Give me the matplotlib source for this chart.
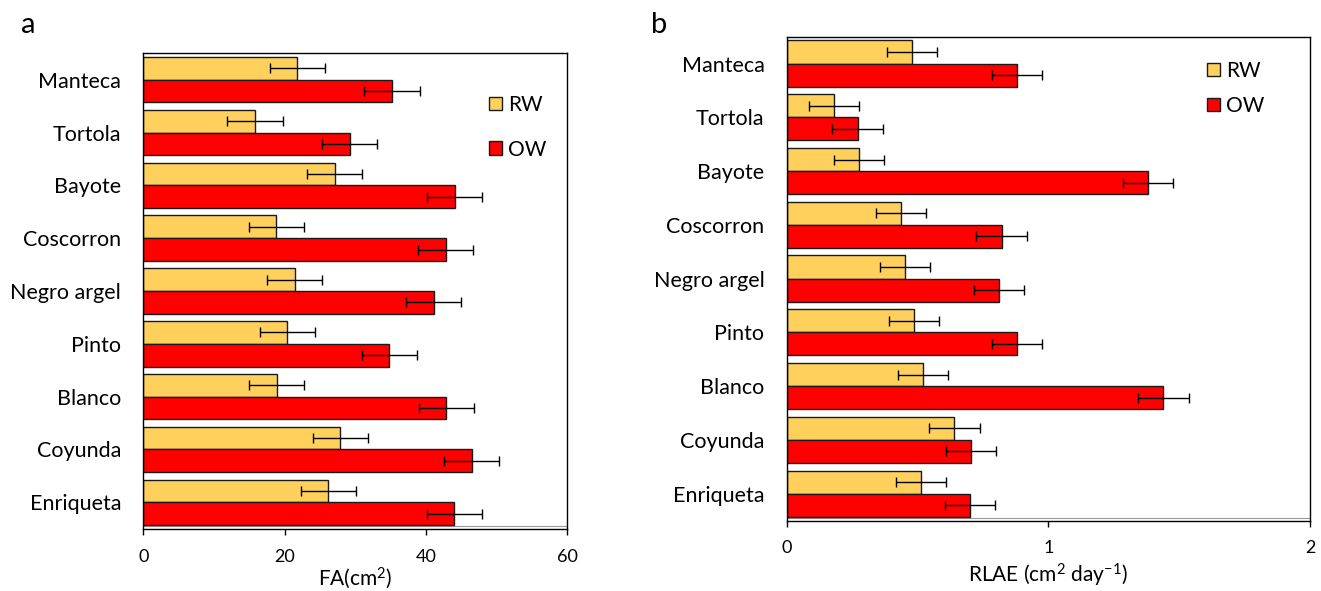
import matplotlib
matplotlib.use("Agg")
import matplotlib.pyplot as plt
from matplotlib.patches import Patch
import numpy as np

plt.rcParams['font.family'] = ['Lato', 'DejaVu Sans']
plt.rcParams['mathtext.fontset'] = 'custom'
plt.rcParams['mathtext.rm'] = 'Lato'
plt.rcParams['mathtext.it'] = 'Lato:italic'
plt.rcParams['mathtext.bf'] = 'Lato:bold'

# ---- data ----
cultivars = ["Manteca", "Tortola", "Bayote", "Coscorron", "Negro argel",
             "Pinto", "Blanco", "Coyunda", "Enriqueta"]

fa_rw = [21.8, 15.8, 27.1, 18.8, 21.4, 20.4, 18.9, 27.9, 26.2]
fa_ow = [35.2, 29.2, 44.1, 42.8, 41.1, 34.8, 42.9, 46.5, 44.0]
fa_rw_err = [3.9, 3.9, 3.9, 3.9, 3.9, 3.9, 3.9, 3.9, 3.9]
fa_ow_err = [3.9, 3.9, 3.9, 3.9, 3.9, 3.9, 3.9, 3.9, 3.9]

rlae_rw = [0.48, 0.18, 0.275, 0.437, 0.452, 0.487, 0.522, 0.641, 0.512]
rlae_ow = [0.879, 0.271, 1.382, 0.821, 0.811, 0.879, 1.44, 0.703, 0.701]
rlae_rw_err = [0.096, 0.096, 0.096, 0.096, 0.096, 0.096, 0.096, 0.096, 0.096]
rlae_ow_err = [0.096, 0.096, 0.096, 0.096, 0.096, 0.096, 0.096, 0.096, 0.096]

fa_ticks = [0, 20, 40, 60]
rlae_ticks = [0, 1, 2]
series_names = ["RW", "OW"]

# ---- style ----
C_RW = '#FFD15C'
C_OW = '#FF0000'
EDGE = '#1a1a1a'
W, H = 1321, 591
fig = plt.figure(figsize=(W / 100, H / 100), dpi=100)

def px_axes(x0, y0, x1, y1):
    return fig.add_axes([x0 / W, 1 - y1 / H, (x1 - x0) / W, (y1 - y0) / H])

axA = px_axes(143.3, 53.3, 567.3, 528.7)
axB = px_axes(786.7, 36.7, 1310.0, 520.5)

bh = 0.43
def draw(ax, rw, ow, rwe, owe, ticks, xlabel, lpad, leg_xy, leg_space):
    y = np.arange(len(cultivars))
    ekw = dict(ecolor='black', elinewidth=1.0, capsize=3.3, capthick=1.0)
    ax.barh(y - bh / 2, rw, height=bh, color=C_RW, edgecolor=EDGE,
            linewidth=1.0, xerr=rwe, error_kw=ekw, label=series_names[0], zorder=2)
    ax.barh(y + bh / 2, ow, height=bh, color=C_OW, edgecolor=EDGE,
            linewidth=1.0, xerr=owe, error_kw=ekw, label=series_names[1], zorder=2)
    ax.set_ylim(len(cultivars) - 0.5, -0.5)
    ax.set_xlim(ticks[0], ticks[-1])
    ax.set_xticks(ticks)
    ax.set_xticklabels([str(t) for t in ticks])
    ax.set_yticks(y)
    ax.set_yticklabels(cultivars)
    ax.tick_params(axis='y', length=0, pad=16, labelsize=15.5)
    ax.tick_params(axis='x', length=4.3, width=1.0, direction='out', pad=10,
                   labelsize=13)
    for s in ax.spines.values():
        s.set_linewidth(1.0)
        s.set_color('black')
    ax.axhline(len(cultivars) - 0.5 - 0.05, color='#999999', lw=0.8, zorder=1)
    ax.set_xlabel(xlabel, fontsize=15, labelpad=lpad)
    handles = [Patch(facecolor=C_RW, edgecolor=EDGE, linewidth=1.0),
               Patch(facecolor=C_OW, edgecolor=EDGE, linewidth=1.0)]
    ax.legend(handles, series_names, loc='upper left',
              bbox_to_anchor=(leg_xy[0] / W, 1 - leg_xy[1] / H),
              bbox_transform=fig.transFigure, frameon=False, fontsize=15,
              handlelength=0.63, handleheight=0.63, handletextpad=0.3,
              borderpad=0, borderaxespad=0, labelspacing=leg_space)

draw(axA, fa_rw, fa_ow, fa_rw_err, fa_ow_err, fa_ticks, 'FA(cm$^2$)', 0.5,
     (489, 95), 1.18)
draw(axB, rlae_rw, rlae_ow, rlae_rw_err, rlae_ow_err, rlae_ticks,
     'RLAE (cm$^2$ day$^{-1}$)', 4, (1207, 61), 0.72)

fig.text(21 / W, 1 - 33 / H, 'a', fontsize=21, ha='left', va='baseline')
fig.text(651 / W, 1 - 33 / H, 'b', fontsize=21, ha='left', va='baseline')

fig.savefig('out.png', dpi=100)
